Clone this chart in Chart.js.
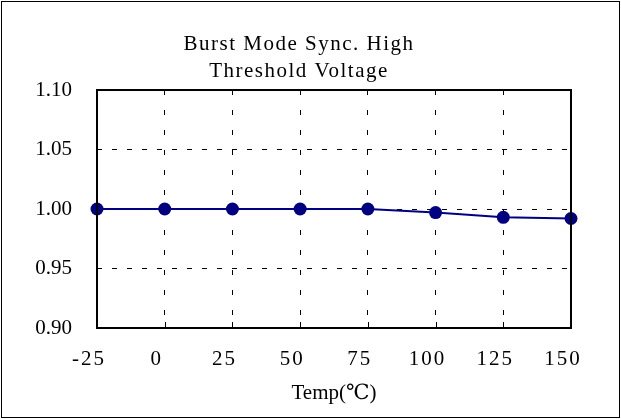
<!DOCTYPE html>
<html>
<head>
<meta charset="utf-8">
<script src="https://cdn.jsdelivr.net/npm/chart.js@4.4.0/dist/chart.umd.min.js"></script>
<style>
  html, body { margin: 0; padding: 0; background: #fff; }
  #wrap { width: 621px; height: 419px; }
</style>
</head>
<body>
<div id="wrap"><canvas id="myChart" width="621" height="419"></canvas></div>
<script>
// Données
const temps = ['-25', '0', '25', '50', '75', '100', '125', '150'];
const voltage = [1.000, 1.000, 1.000, 1.000, 1.000, 0.997, 0.993, 0.992];
const yTicks = [0.90, 0.95, 1.00, 1.05, 1.10];

const serif = '"Liberation Serif", "DejaVu Serif", serif';

// ajoute un espacement de lettres au dessin d'un élément
function spaced(obj, fn, ctx, sp) {
  if (!obj || obj['_sp_' + fn]) return;
  const orig = obj[fn].bind(obj);
  obj[fn] = function (...args) {
    ctx.save();
    ctx.letterSpacing = sp;
    orig(...args);
    ctx.restore();
  };
  obj['_sp_' + fn] = true;
}

// Cadre extérieur + bordure de la zone de tracé + petites graduations
const framePlugin = {
  id: 'frame',
  beforeDraw(chart) {
    spaced(chart.titleBlock, 'draw', chart.ctx, '1.5px');
    spaced(chart.scales.x, 'drawLabels', chart.ctx, '2px');
  },
  afterDraw(chart) {
    const ctx = chart.ctx;
    const a = chart.chartArea;
    const x = chart.scales.x;
    ctx.save();
    ctx.strokeStyle = '#000';
    ctx.lineWidth = 1;
    ctx.strokeRect(1.5, 1.5, chart.width - 3, chart.height - 3);
    ctx.lineWidth = 2;
    ctx.strokeRect(a.left, a.top, a.right - a.left, a.bottom - a.top);
    ctx.lineWidth = 1;
    for (let i = 1; i < temps.length - 1; i++) {
      const px = Math.round(x.getPixelForValue(i)) + 0.5;
      ctx.beginPath();
      ctx.moveTo(px, a.bottom);
      ctx.lineTo(px, a.bottom - 6);
      ctx.stroke();
    }
    ctx.restore();
  }
};

const ctx = document.getElementById('myChart').getContext('2d');
new Chart(ctx, {
  type: 'line',
  data: {
    labels: temps,
    datasets: [{
      data: voltage,
      borderColor: '#000080',
      backgroundColor: '#000080',
      borderWidth: 2,
      pointRadius: 6.5,
      pointHoverRadius: 6.5,
      pointBackgroundColor: '#000080',
      pointBorderWidth: 0,
      tension: 0,
      clip: false
    }]
  },
  options: {
    responsive: false,
    animation: false,
    layout: { padding: { left: 27, right: 50, top: 0, bottom: 13 } },
    plugins: {
      legend: { display: false },
      tooltip: { enabled: false },
      title: {
        display: true,
        text: ['Burst Mode Sync. High', 'Threshold Voltage'],
        color: '#000',
        font: { family: serif, size: 21, weight: 'normal', lineHeight: 1.286 },
        padding: { top: 31, bottom: 5 }
      }
    },
    scales: {
      x: {
        type: 'category',
        offset: false,
        afterFit(scale) { scale.height = 78; },
        grid: {
          drawTicks: false,
          color: (c) => (c.index === 0 || c.index === temps.length - 1) ? 'rgba(0,0,0,0)' : '#000',
          lineWidth: 1
        },
        border: { display: false, dash: [5, 15] },
        ticks: {
          color: '#000',
          font: { family: serif, size: 21 },
          padding: 19,
          labelOffset: -8,
          maxRotation: 0,
          autoSkip: false
        },
        title: {
          display: true,
          text: 'Temp(℃)',
          color: '#000',
          font: { family: serif, size: 21 },
          padding: { top: 0, bottom: 0 }
        }
      },
      y: {
        min: 0.90,
        max: 1.10,
        afterBuildTicks(scale) {
          scale.ticks = yTicks.map(v => ({ value: v }));
        },
        afterFit(scale) { scale.width = 70; },
        grid: {
          drawTicks: false,
          color: (c) => (c.tick && (c.tick.value === 0.90 || c.tick.value === 1.10)) ? 'rgba(0,0,0,0)' : '#000',
          lineWidth: 1
        },
        border: { display: false, dash: [5, 10] },
        ticks: {
          color: '#000',
          font: { family: serif, size: 21 },
          padding: 25,
          callback: (v) => Number(v).toFixed(2)
        }
      }
    }
  },
  plugins: [framePlugin]
});
</script>
</body>
</html>
